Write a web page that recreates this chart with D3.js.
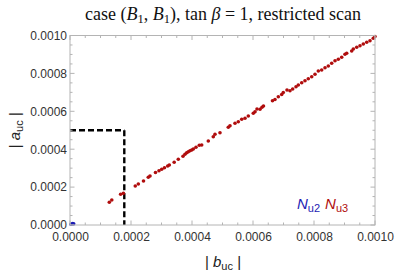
<!DOCTYPE html>
<html><head><meta charset="utf-8">
<script src="https://cdn.jsdelivr.net/npm/d3@7"></script>
<style>body{margin:0;background:#fff}svg{display:block}</style>
</head><body><div id="chart"></div>
<script>
// |b_uc| values for N_u3 (red)
const redB = [0.0001289,0.000137,0.000166,0.000175,0.000214,0.000224,0.000241,0.0002567,0.0002623,0.0002803,0.0002918,0.0003007,0.0003098,0.0003203,0.0003256,0.0003416,0.0003551,0.0003705,0.000377,0.0003826,0.0003879,0.0003934,0.000399,0.0004043,0.0004131,0.0004239,0.0004318,0.0004534,0.0004698,0.0004754,0.0004918,0.000519,0.0005246,0.000541,0.0005518,0.000563,0.0005738,0.0005846,0.000601,0.0006066,0.0006131,0.000623,0.0006295,0.0006344,0.0006639,0.0006721,0.000683,0.0006941,0.0006993,0.0007115,0.0007213,0.0007302,0.000741,0.0007485,0.0007597,0.0007705,0.0007813,0.0007925,0.0008033,0.0008141,0.0008252,0.0008361,0.0008469,0.000858,0.0008689,0.0008797,0.0008908,0.0009016,0.0009072,0.0009236,0.0009289,0.00094,0.0009508,0.0009616,0.0009728,0.0009836,0.0009944,0.001];
// |a_uc| values for N_u3 (red)
const redA = [0.0001198,0.000132,0.000162,0.000167,0.0002058,0.0002164,0.0002322,0.0002517,0.0002586,0.000277,0.0002865,0.0002939,0.0003024,0.0003113,0.0003166,0.0003314,0.0003467,0.0003625,0.0003731,0.0003815,0.0003868,0.0003921,0.0003958,0.0004011,0.00041,0.0004206,0.0004222,0.0004433,0.000466,0.0004786,0.0004871,0.0005156,0.000524,0.0005367,0.0005451,0.0005578,0.0005631,0.0005752,0.0005894,0.0005979,0.0006121,0.0006106,0.0006211,0.000628,0.0006559,0.0006623,0.000677,0.0006887,0.0006992,0.0007124,0.0007082,0.0007177,0.0007298,0.0007388,0.0007509,0.0007615,0.000772,0.0007826,0.0007953,0.0008127,0.0008179,0.0008301,0.0008391,0.0008533,0.000867,0.0008744,0.000885,0.0009008,0.0009061,0.0009182,0.0009288,0.0009377,0.0009462,0.0009551,0.0009641,0.0009726,0.0009852,0.000995];
// N_u2 (blue)
const blueB = [0.000003,0.000006,0.000009,0.000012];
const blueA = [0.000004,0.000005,0.000007,0.000006];
// restriction box
const boxB = [0.000178];
const boxA = [0.0005];
const xTicks = [0,0.0002,0.0004,0.0006,0.0008,0.001];
const yTicks = [0,0.0002,0.0004,0.0006,0.0008,0.001];
const tickLabels = ["0.0000","0.0002","0.0004","0.0006","0.0008","0.0010"];
const minorTicks = d3.range(0,21).map(i=>i*0.00005);

const W=399,H=275;
const m={l:70,r:24,t:35.5,b:50};
const svg=d3.select("#chart").append("svg").attr("width",W).attr("height",H);
const x=d3.scaleLinear().domain([0,0.001]).range([m.l,W-m.r]);
const y=d3.scaleLinear().domain([0,0.001]).range([H-m.b,m.t]);
const frameCol="#b4b4b4", redC="#b00d0d", blueC="#1c1cb4";

// title
const t=svg.append("text").attr("x",223).attr("y",20).attr("text-anchor","middle")
 .style("font-family","'Liberation Serif','DejaVu Serif',serif").style("font-size","18px").attr("fill","#111");
t.append("tspan").text("case (");
t.append("tspan").attr("font-style","italic").text("B");
t.append("tspan").attr("font-size","12.5px").attr("dy",3).text("1");
t.append("tspan").attr("dy",-3).text(", ");
t.append("tspan").attr("font-style","italic").text("B");
t.append("tspan").attr("font-size","12.5px").attr("dy",3).text("1");
t.append("tspan").attr("dy",-3).text("), tan ");
t.append("tspan").attr("font-style","italic").text("β");
t.append("tspan").text(" = 1, restricted scan");

// dashed box
const dash=svg.append("g").attr("stroke","#000").attr("stroke-width",2.4).attr("stroke-dasharray","6,3").attr("fill","none");
dash.append("line").attr("x1",x(0)).attr("x2",x(boxB[0])).attr("y1",y(boxA[0])).attr("y2",y(boxA[0]));
dash.append("line").attr("x1",x(boxB[0])).attr("x2",x(boxB[0])).attr("y1",y(boxA[0])).attr("y2",y(0));

// points
const red=redB.map((b,i)=>({b,a:redA[i]}));
const blue=blueB.map((b,i)=>({b,a:blueA[i]}));
svg.append("g").selectAll("circle").data(red).join("circle")
 .attr("cx",d=>x(d.b)).attr("cy",d=>y(d.a)).attr("r",1.8).attr("fill",redC);
svg.append("g").selectAll("circle").data(blue).join("circle")
 .attr("cx",d=>x(d.b)).attr("cy",d=>y(d.a)).attr("r",1.8).attr("fill",blueC);

// frame
const x0=x(0),x1=x(0.001),y0=y(0),y1=y(0.001);
svg.append("rect").attr("x",x0).attr("y",y1).attr("width",x1-x0).attr("height",y0-y1)
 .attr("fill","none").attr("stroke",frameCol).attr("stroke-width",1);
const tg=svg.append("g").attr("stroke",frameCol).attr("stroke-width",1);
const isMajor=v=>Math.abs(Math.round(v/0.0002)*0.0002-v)<1e-9;
minorTicks.forEach(v=>{
  const L=isMajor(v)?4.5:2.5;
  tg.append("line").attr("x1",x(v)).attr("x2",x(v)).attr("y1",y0).attr("y2",y0-L);
  tg.append("line").attr("x1",x(v)).attr("x2",x(v)).attr("y1",y1).attr("y2",y1+L);
  tg.append("line").attr("y1",y(v)).attr("y2",y(v)).attr("x1",x0).attr("x2",x0+L);
  tg.append("line").attr("y1",y(v)).attr("y2",y(v)).attr("x1",x1).attr("x2",x1-L);
});

// axes labels via d3 axes
const xa=svg.append("g").attr("transform",`translate(0,${y0})`)
 .call(d3.axisBottom(x).tickValues(xTicks).tickFormat((d,i)=>tickLabels[i]).tickSize(0).tickPadding(7));
const ya=svg.append("g").attr("transform",`translate(${x0},0)`)
 .call(d3.axisLeft(y).tickValues(yTicks).tickFormat((d,i)=>tickLabels[i]).tickSize(0).tickPadding(3));
[xa,ya].forEach(g=>{g.select(".domain").remove();
 g.selectAll("text").style("font-family","'Liberation Sans',Arial,sans-serif").style("font-size","12px").attr("fill","#333");});

// axis titles
const lab=(g,letter)=>{
  g.append("tspan").text("| ");
  g.append("tspan").attr("font-style","italic").text(letter);
  g.append("tspan").attr("font-size","11px").attr("dy",3).text("uc");
  g.append("tspan").attr("dy",-3).text(" |");
};
const xl=svg.append("text").attr("x",223).attr("y",267).attr("text-anchor","middle")
 .style("font-family","'Liberation Sans',Arial,sans-serif").style("font-size","15px").attr("fill","#222");
lab(xl,"b");
const yl=svg.append("text").attr("transform",`translate(20,${(y0+y1)/2}) rotate(-90)`).attr("text-anchor","middle")
 .style("font-family","'Liberation Sans',Arial,sans-serif").style("font-size","15px").attr("fill","#222");
lab(yl,"a");

// legend
const lg=svg.append("text").attr("x",297).attr("y",209)
 .style("font-family","'Liberation Sans',Arial,sans-serif").style("font-size","15px");
lg.append("tspan").attr("fill",blueC).attr("font-style","italic").text("N");
lg.append("tspan").attr("fill",blueC).attr("font-size","11px").attr("dy",3).text("u2");
lg.append("tspan").attr("fill",redC).attr("dy",-3).attr("dx",5).attr("font-style","italic").text("N");
lg.append("tspan").attr("fill",redC).attr("font-size","11px").attr("dy",3).text("u3");
</script></body></html>
